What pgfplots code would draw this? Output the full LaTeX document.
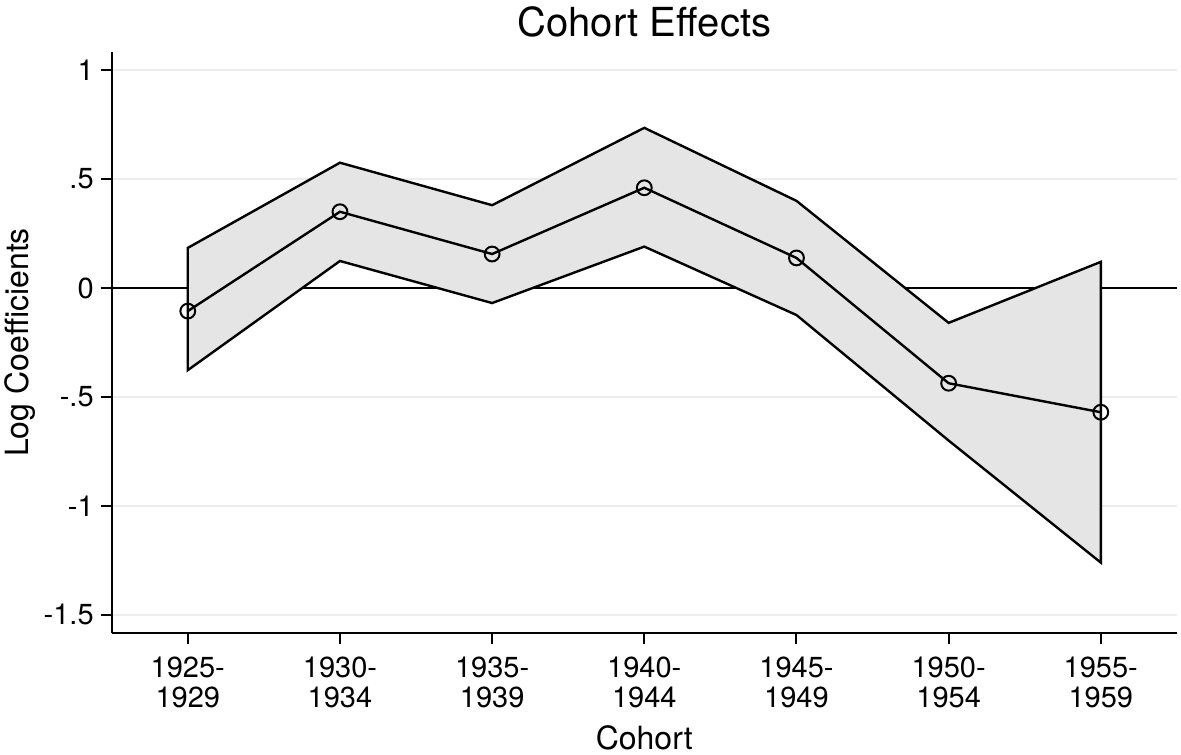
\documentclass[border=0pt]{standalone}
\usepackage{fontspec}
\setmainfont{TeX Gyre Heros}
\usepackage{pgfplots}
\pgfplotsset{compat=1.18}

\begin{document}
\begin{tikzpicture}
\useasboundingbox (-55.85pt,-60.5pt) rectangle (534.65pt,316.5pt);
\begin{axis}[
    at={(0,0)}, anchor=south west,
    scale only axis,
    width=532.6pt, height=290.5pt,
    xmin=-0.5, xmax=6.5,
    ymin=-1.583, ymax=1.083,
    axis x line*=bottom, axis y line*=left,
    axis line style={black, line width=1pt},
    xtick={0,1,2,3,4,5,6},
    xticklabels={{1925-\\1929},{1930-\\1934},{1935-\\1939},{1940-\\1944},{1945-\\1949},{1950-\\1954},{1955-\\1959}},
    xticklabel style={align=center, font=\fontsize{14.5}{15}\selectfont, yshift=-3pt},
    ytick={-1.5,-1,-0.5,0,0.5,1},
    yticklabels={-1.5,-1,-.5,0,.5,1},
    yticklabel style={font=\fontsize{14.5}{16}\selectfont},
    tick style={black, line width=1pt},
    tick align=outside,
    major tick length=5.5pt,
    ymajorgrids,
    grid style={color=black!7, line width=0.6pt},
    title={Cohort Effects},
    title style={font=\fontsize{20}{22}\selectfont, at={(0.5,1)}, anchor=center, yshift=9pt},
    xlabel={Cohort},
    xlabel style={font=\fontsize{16}{17}\selectfont, yshift=-2pt},
    ylabel={Log Coefficients},
    ylabel style={font=\fontsize{16}{17}\selectfont, yshift=-3pt},
    clip=false,
]
% zero reference line
\addplot[black, line width=0.7pt, forget plot] coordinates {(-0.5,0) (6.5,0)};
% confidence band: upper bound then lower bound reversed
\addplot[fill=black!10, draw=black, line width=1.2pt] coordinates {
    (0,0.184) (1,0.575) (2,0.380) (3,0.735) (4,0.400) (5,-0.160) (6,0.120)
    (6,-1.260) (5,-0.700) (4,-0.124) (3,0.190) (2,-0.069) (1,0.124) (0,-0.377)
} -- cycle;
% point estimates
\addplot[black, line width=1.2pt, mark=o, mark size=3.7pt, mark options={line width=1pt}] coordinates {
    (0,-0.106) (1,0.350) (2,0.156) (3,0.460) (4,0.138) (5,-0.437) (6,-0.570)
};
\end{axis}
\end{tikzpicture}
\end{document}
